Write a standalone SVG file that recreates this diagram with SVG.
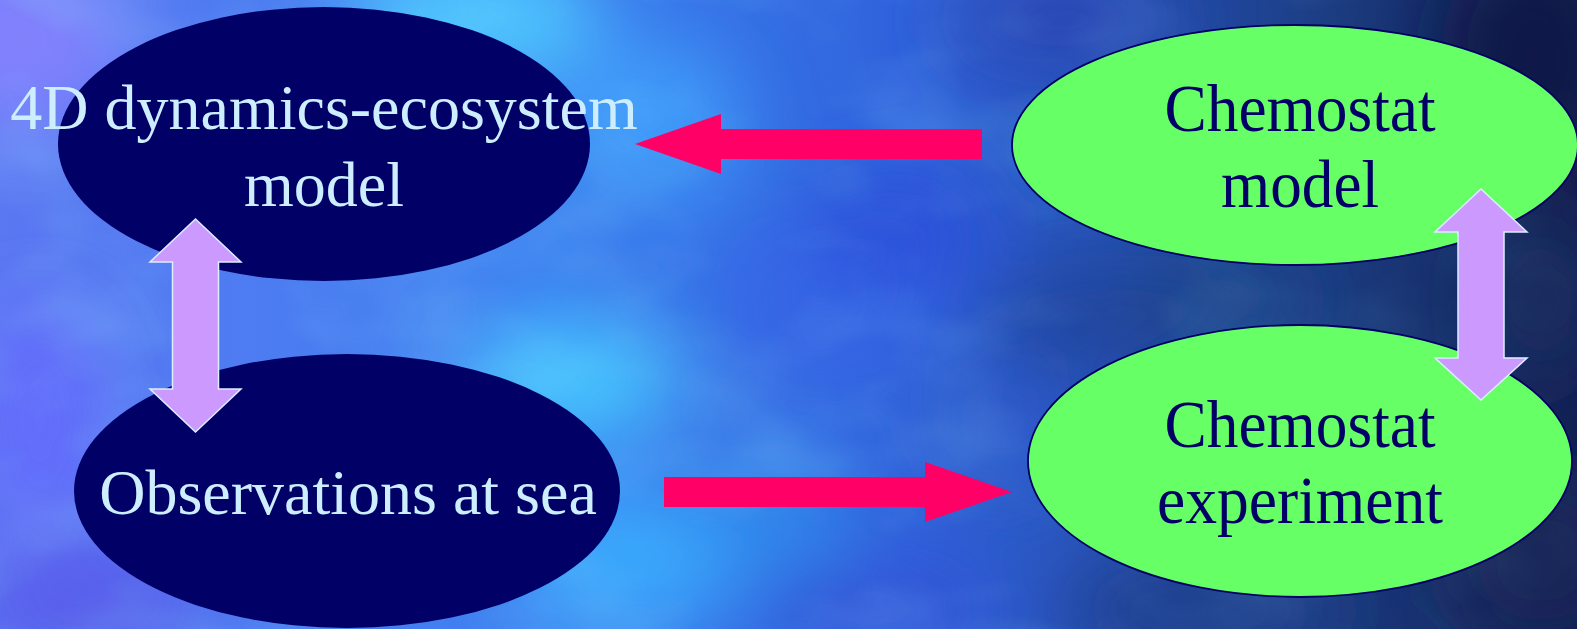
<svg xmlns="http://www.w3.org/2000/svg" width="1577" height="629" viewBox="0 0 1577 629">
  <defs>
    <linearGradient id="bgBase" x1="0" y1="0" x2="1" y2="0">
      <stop offset="0" stop-color="#5c78f2"/>
      <stop offset="0.35" stop-color="#3c80f0"/>
      <stop offset="0.58" stop-color="#3062dc"/>
      <stop offset="0.72" stop-color="#2450b0"/>
      <stop offset="0.86" stop-color="#1b3a7c"/>
      <stop offset="1" stop-color="#131e52"/>
    </linearGradient>
    <linearGradient id="mottleFade" x1="0" y1="0" x2="1" y2="0">
      <stop offset="0" stop-color="#fff" stop-opacity="1"/>
      <stop offset="0.6" stop-color="#fff" stop-opacity="0.8"/>
      <stop offset="1" stop-color="#fff" stop-opacity="0.2"/>
    </linearGradient>
    <mask id="mottleMask">
      <rect width="1577" height="629" fill="url(#mottleFade)"/>
    </mask>
    <filter id="cloud" x="-20%" y="-20%" width="140%" height="140%">
      <feGaussianBlur stdDeviation="38"/>
    </filter>
    <!-- low-contrast cloudy mottling -->
    <filter id="mottle" x="0" y="0" width="100%" height="100%">
      <feTurbulence type="fractalNoise" baseFrequency="0.006 0.01" numOctaves="3" seed="7"/>
      <feColorMatrix type="matrix" values="0 0 0 0 0.3  0 0 0 0 0.75  0 0 0 0 1  0 0 0 0.9 -0.38"/>
    </filter>
    <style>
      .txt { font-family: "Liberation Serif", "Times New Roman", serif; font-size: 64px; text-anchor: middle; }
      .green .txt { font-size: 67px; }
      .dark ellipse { fill: #000066; }
      .dark text { fill: #cceeff; }
      .green ellipse { fill: #66ff66; stroke: #000066; stroke-width: 1.8; }
      .green text { fill: #000066; }
      .red { fill: #ff0066; }
      .purple { fill: #cc99ff; stroke: #ddeeff; stroke-width: 1.5; stroke-linejoin: miter; }
    </style>
  </defs>

  <!-- soft cloudy blue backdrop -->
  <g id="background">
    <rect width="1577" height="629" fill="url(#bgBase)"/>
    <g filter="url(#cloud)">
      <ellipse cx="20" cy="40" rx="110" ry="90" fill="#8c84ff" opacity="0.8"/>
      <ellipse cx="40" cy="420" rx="70" ry="120" fill="#6a68ff" opacity="0.7"/>
      <ellipse cx="90" cy="600" rx="120" ry="60" fill="#5a52e8" opacity="0.7"/>
      <ellipse cx="470" cy="20" rx="130" ry="60" fill="#52d2ff" opacity="0.9"/>
      <ellipse cx="650" cy="120" rx="90" ry="80" fill="#44aaff" opacity="0.7"/>
      <ellipse cx="570" cy="380" rx="110" ry="60" fill="#48ccff" opacity="0.9"/>
      <ellipse cx="630" cy="560" rx="110" ry="70" fill="#3cb4ff" opacity="0.8"/>
      <ellipse cx="770" cy="520" rx="80" ry="60" fill="#2e90f0" opacity="0.7"/>
      <ellipse cx="820" cy="300" rx="100" ry="80" fill="#3a64e6" opacity="0.8"/>
      <ellipse cx="900" cy="230" rx="90" ry="60" fill="#2a4ed8" opacity="0.8"/>
      <ellipse cx="880" cy="610" rx="120" ry="50" fill="#3452d6" opacity="0.8"/>
      <ellipse cx="1000" cy="420" rx="90" ry="90" fill="#2e5ccc" opacity="0.7"/>
      <ellipse cx="1060" cy="20" rx="120" ry="50" fill="#2a44b4" opacity="0.8"/>
      <ellipse cx="1100" cy="320" rx="110" ry="70" fill="#23449c" opacity="0.8"/>
      <ellipse cx="1220" cy="300" rx="90" ry="50" fill="#1d4580" opacity="0.7"/>
      <ellipse cx="1200" cy="610" rx="140" ry="50" fill="#1f3c86" opacity="0.8"/>
      <ellipse cx="1530" cy="60" rx="90" ry="120" fill="#0f1846" opacity="0.9"/>
      <ellipse cx="1540" cy="560" rx="90" ry="90" fill="#152858" opacity="0.8"/>
      <ellipse cx="1540" cy="300" rx="60" ry="90" fill="#173464" opacity="0.7"/>
    </g>
    <rect width="1577" height="629" filter="url(#mottle)" mask="url(#mottleMask)" opacity="0.55"/>
  </g>

  <!-- nodes -->
  <g id="node-4d-model" class="dark">
    <ellipse cx="324" cy="144" rx="266" ry="137"/>
    <text class="txt" x="324" y="129">4D dynamics-ecosystem</text>
    <text class="txt" x="324" y="206">model</text>
  </g>

  <g id="node-observations" class="dark">
    <ellipse cx="347" cy="491" rx="273" ry="137"/>
    <text class="txt" x="348" y="514">Observations at sea</text>
  </g>

  <g id="node-chemostat-model" class="green">
    <ellipse cx="1295" cy="145" rx="283" ry="120"/>
    <text class="txt" x="1300" y="131" textLength="271" lengthAdjust="spacingAndGlyphs">Chemostat</text>
    <text class="txt" x="1300" y="207" textLength="158" lengthAdjust="spacingAndGlyphs">model</text>
  </g>

  <g id="node-chemostat-experiment" class="green">
    <ellipse cx="1300" cy="461" rx="272" ry="136"/>
    <text class="txt" x="1300" y="447" textLength="271" lengthAdjust="spacingAndGlyphs">Chemostat</text>
    <text class="txt" x="1300" y="523" textLength="286" lengthAdjust="spacingAndGlyphs">experiment</text>
  </g>

  <!-- connectors -->
  <g id="connectors">
    <!-- chemostat model -> 4D model -->
    <polygon class="red" points="982,129 721,129 721,114 635,144 721,174 721,159 982,159"/>
    <!-- observations -> chemostat experiment -->
    <polygon class="red" points="664,477 925,477 925,462 1012,492 925,522 925,507 664,507"/>
    <!-- 4D model <-> observations -->
    <polygon class="purple" points="195.5,219 241,262 218.5,262 218.5,389 241,389 195.5,432 150,389 172.5,389 172.5,262 150,262"/>
    <!-- chemostat model <-> chemostat experiment -->
    <polygon class="purple" points="1481,189 1527,232 1504,232 1504,358 1527,358 1481,400 1435,358 1458,358 1458,232 1435,232"/>
  </g>
</svg>
